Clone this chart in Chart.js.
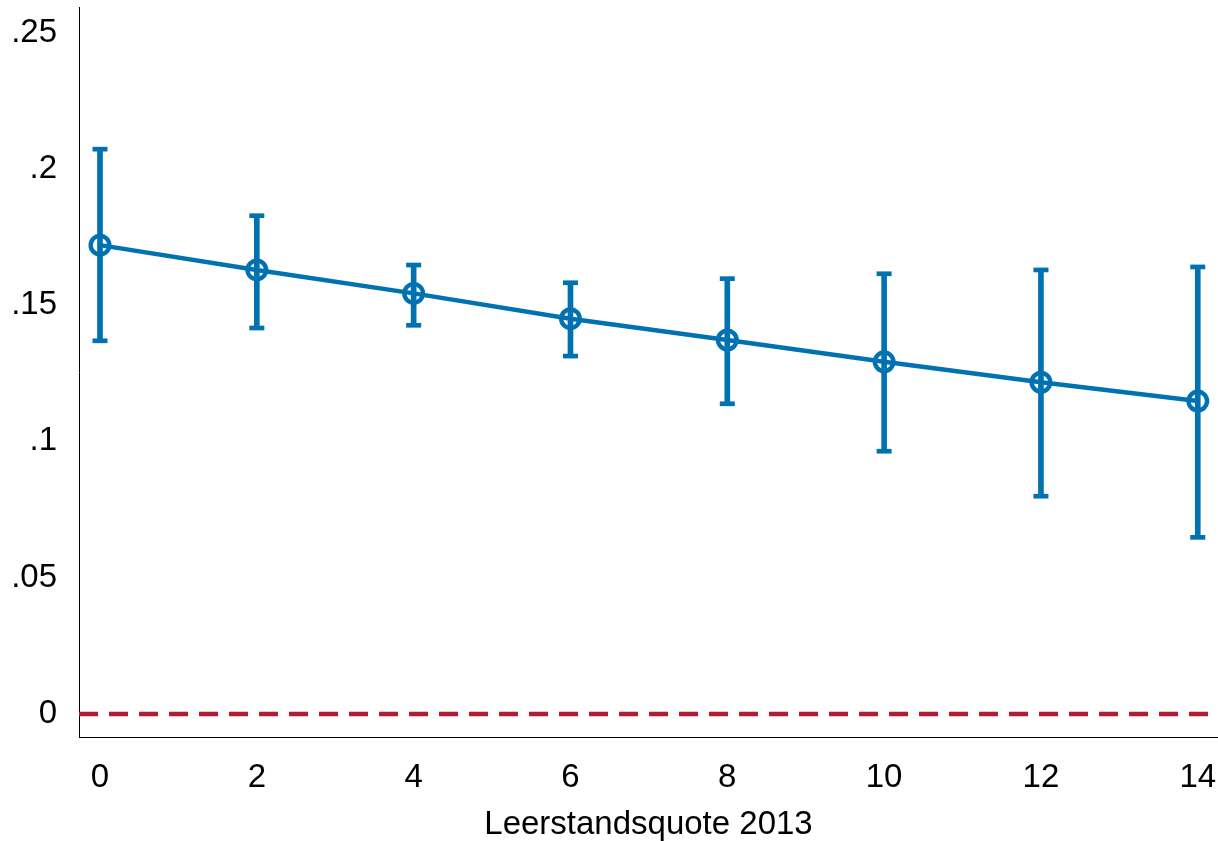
<!DOCTYPE html>
<html>
<head>
<meta charset="utf-8">
<script src="https://cdn.jsdelivr.net/npm/chart.js@4"></script>
<style>
  html, body { margin: 0; padding: 0; background: #fff; }
  #wrap { width: 1218px; height: 841px; }
</style>
</head>
<body>
<div id="wrap"><canvas id="c" width="1218" height="841"></canvas></div>
<script>
// ---- data ----
const xValues   = [0, 2, 4, 6, 8, 10, 12, 14];
const estimates = [0.1720, 0.1629, 0.1543, 0.1450, 0.1372, 0.1292, 0.1217, 0.1148];
const ciLower   = [0.1369, 0.1416, 0.1426, 0.1313, 0.1138, 0.0964, 0.0799, 0.0648];
const ciUpper   = [0.2072, 0.1828, 0.1647, 0.1582, 0.1597, 0.1615, 0.1629, 0.1640];
const xTicks      = [0, 2, 4, 6, 8, 10, 12, 14];
const yTicks      = [0, 0.05, 0.1, 0.15, 0.2, 0.25];
const yTickLabels = ['0', '.05', '.1', '.15', '.2', '.25'];
const xTitle = 'Leerstandsquote 2013';
const refLineY = 0;

// ---- scale ranges ----
const X_MIN = -0.2678, X_MAX = 14.258;
const Y_MIN = -0.00844, Y_MAX = 0.25936;

const BLUE = '#0072B2';
const RED = '#B31B34';
const FONT = '"Liberation Sans", Arial, sans-serif';

const pointData = xValues.map((x, i) => ({ x: x, y: estimates[i] }));
const barData = xValues.map((x, i) => ({ x: x, y: [ciLower[i], ciUpper[i]] }));
const capData = xValues.map((x, i) => ({ x: x, y: ciLower[i] }))
  .concat(xValues.map((x, i) => ({ x: x, y: ciUpper[i] })));
const refData = [{ x: X_MIN, y: refLineY }, { x: X_MAX, y: refLineY }];

function zeroPad(s) {
  s.paddingTop = 0; s.paddingBottom = 0; s.paddingLeft = 0; s.paddingRight = 0;
}

new Chart(document.getElementById('c'), {
  type: 'scatter',
  data: {
    datasets: [
      {
        type: 'line',
        data: refData,
        borderColor: RED,
        borderWidth: 4.5,
        borderDash: [19, 11],
        pointRadius: 0,
        fill: false,
        order: 4
      },
      {
        type: 'bar',
        data: barData,
        backgroundColor: BLUE,
        borderWidth: 0,
        barThickness: 5,
        order: 3
      },
      {
        type: 'scatter',
        data: capData,
        pointStyle: 'line',
        pointRadius: 7.5,
        pointBorderWidth: 4.7,
        pointBorderColor: BLUE,
        pointBackgroundColor: BLUE,
        order: 2
      },
      {
        type: 'line',
        data: pointData,
        borderColor: BLUE,
        borderWidth: 4.5,
        tension: 0,
        fill: false,
        pointStyle: 'circle',
        pointRadius: 9.3,
        pointBorderWidth: 4.4,
        pointBorderColor: BLUE,
        pointBackgroundColor: 'rgba(0,0,0,0)',
        order: 1
      }
    ]
  },
  options: {
    responsive: false,
    animation: false,
    events: [],
    layout: { autoPadding: false, padding: { top: 7, right: 0, bottom: 0, left: 0 } },
    plugins: { legend: { display: false }, tooltip: { enabled: false } },
    scales: {
      x: {
        type: 'linear',
        position: 'bottom',
        min: X_MIN,
        max: X_MAX,
        offset: false,
        grid: { display: false, drawTicks: false },
        border: { display: true, color: '#000', width: 1 },
        afterBuildTicks: (s) => { s.ticks = xTicks.map(v => ({ value: v })); },
        afterFit: (s) => { s.height = 104; zeroPad(s); },
        ticks: {
          padding: 21,
          maxRotation: 0,
          autoSkip: false,
          color: '#000',
          font: { family: FONT, size: 33 },
          callback: (v) => String(v)
        },
        title: {
          display: true,
          text: xTitle,
          color: '#000',
          font: { family: FONT, size: 33, lineHeight: 1.0 },
          padding: { top: 0, bottom: 0 }
        }
      },
      y: {
        type: 'linear',
        min: Y_MIN,
        max: Y_MAX,
        grid: { display: false, drawTicks: false },
        border: { display: true, color: '#000', width: 1 },
        afterBuildTicks: (s) => { s.ticks = yTicks.map(v => ({ value: v })); },
        afterFit: (s) => { s.width = 79; zeroPad(s); },
        ticks: {
          padding: 22,
          autoSkip: false,
          color: '#000',
          font: { family: FONT, size: 33 },
          callback: (v, i) => yTickLabels[i]
        }
      }
    }
  }
});
</script>
</body>
</html>
